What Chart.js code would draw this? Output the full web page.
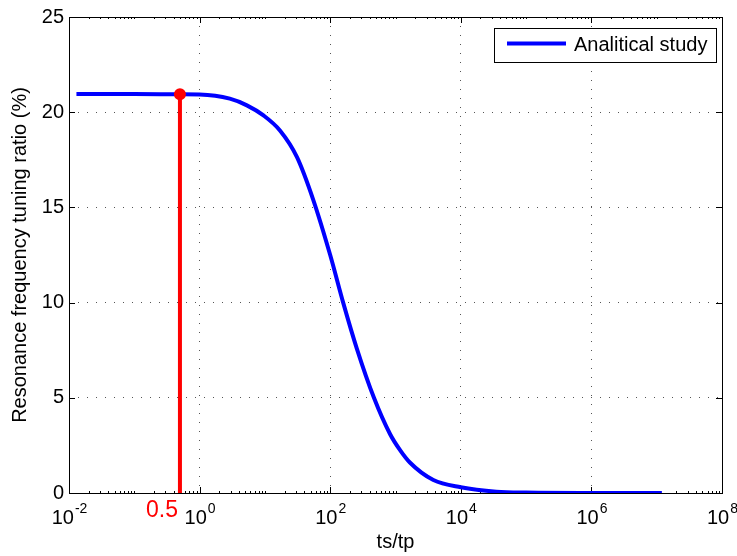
<!DOCTYPE html>
<html>
<head>
<meta charset="utf-8">
<script src="https://cdn.jsdelivr.net/npm/chart.js@4.4.1/dist/chart.umd.min.js"></script>
<style>
  html, body { margin: 0; padding: 0; background: #fff; }
  #wrap { width: 737px; height: 556px; }
</style>
</head>
<body>
<div id="wrap"><canvas id="chart" width="737" height="556"></canvas></div>
<script>
'use strict';

// ts/tp values and the tuning ratio (%)
const ratioValues = [0.013, 0.1, 0.5, 1, 2.9, 5.3, 9.5, 17, 31, 55, 100, 158, 255, 468, 824, 1175, 1660, 3800, 10000, 35000, 100000, 1000000, 12000000];
const tuningValues = [20.95, 20.95, 20.94, 20.93, 20.71, 20.36, 19.83, 19.04, 17.64, 15.4, 12.5, 10.0, 7.6, 5.0, 3.1, 2.25, 1.6, 0.68, 0.3, 0.07, 0.02, 0.0, 0.0];

// highlighted operating point
const markerRatio = [0.5];
const markerTuning = [20.94];
const markerLabel = '0.5';

const xTickPowers = [-2, 0, 2, 4, 6, 8];
const yTickValues = [0, 5, 10, 15, 20, 25];

const seriesLabel = 'Analitical study';
const xTitle = 'ts/tp';
const yTitle = 'Resonance frequency tuning ratio (%)';

const FONT = 'Liberation Sans, Arial, Helvetica, sans-serif';

// Axes box, inward ticks, exponent tick labels (MATLAB look).
const frameAndTicks = {
  id: 'frameAndTicks',
  beforeDatasetsDraw(chart) {
    const {ctx, chartArea: a, scales} = chart;
    const xs = scales.x, ys = scales.y;
    ctx.save();
    ctx.strokeStyle = '#000';
    ctx.lineWidth = 1;
    ctx.strokeRect(Math.round(a.left) + 0.5, Math.round(a.top) + 0.5,
        Math.round(a.right - a.left), Math.round(a.bottom - a.top));

    ctx.beginPath();
    // x ticks: decades + minor 2..9
    for (let p = xTickPowers[0]; p < xTickPowers[xTickPowers.length - 1]; p++) {
      for (let k = 1; k < 10; k++) {
        const v = k * Math.pow(10, p);
        const px = Math.round(xs.getPixelForValue(v)) + 0.5;
        const major = k === 1 && xTickPowers.includes(p);
        const len = major ? 6 : 2;
        ctx.moveTo(px, a.bottom); ctx.lineTo(px, a.bottom - len);
        ctx.moveTo(px, a.top); ctx.lineTo(px, a.top + len);
      }
    }
    // y ticks
    for (const v of yTickValues) {
      const py = Math.round(ys.getPixelForValue(v)) + 0.5;
      ctx.moveTo(a.left, py); ctx.lineTo(a.left + 6, py);
      ctx.moveTo(a.right, py); ctx.lineTo(a.right - 6, py);
    }
    ctx.stroke();

    // x tick labels as 10^p
    ctx.fillStyle = '#000';
    ctx.textBaseline = 'alphabetic';
    ctx.textAlign = 'left';
    for (const p of xTickPowers) {
      const px = xs.getPixelForValue(Math.pow(10, p));
      const exp = p < 0 ? '-' + Math.abs(p) : String(p);
      ctx.font = '20px ' + FONT;
      const wb = ctx.measureText('10').width;
      ctx.font = '14px ' + FONT;
      const we = ctx.measureText(exp).width;
      const x0 = px - (wb + we) / 2;
      ctx.font = '20px ' + FONT;
      ctx.fillText('10', x0, a.bottom + 31);
      ctx.font = '14px ' + FONT;
      ctx.fillText(exp, x0 + wb + 1, a.bottom + 20);
    }

    // red label under the marker line
    ctx.fillStyle = '#ff0000';
    ctx.font = '23px ' + FONT;
    ctx.textAlign = 'right';
    ctx.fillText(markerLabel, xs.getPixelForValue(markerRatio[0]) - 2, a.bottom + 24);
    ctx.restore();
  },
  afterDraw(chart) {
    // legend box in the top right corner
    const {ctx, chartArea: a} = chart;
    const w = 222, h = 34;
    const left = Math.round(a.right - 6 - w), top = Math.round(a.top + 11);
    ctx.save();
    ctx.fillStyle = '#fff';
    ctx.fillRect(left, top, w, h);
    ctx.strokeStyle = '#000';
    ctx.lineWidth = 1;
    ctx.strokeRect(left + 0.5, top + 0.5, w, h);
    ctx.strokeStyle = '#0000ff';
    ctx.lineWidth = 4;
    ctx.beginPath();
    ctx.moveTo(left + 13, top + 15.5);
    ctx.lineTo(left + 72, top + 15.5);
    ctx.stroke();
    ctx.fillStyle = '#000';
    ctx.font = '20px ' + FONT;
    ctx.textBaseline = 'alphabetic';
    ctx.fillText(chart.data.datasets[0].label, left + 80, top + 23);
    ctx.restore();
  }
};

const curvePoints = ratioValues.map((r, i) => ({x: r, y: tuningValues[i]}));
const markerPoints = markerRatio.map((r, i) => ({x: r, y: markerTuning[i]}));
const stemPoints = [{x: markerRatio[0], y: 0}, {x: markerRatio[0], y: markerTuning[0]}];

new Chart(document.getElementById('chart'), {
  type: 'line',
  data: {
    datasets: [{
      label: seriesLabel,
      data: curvePoints,
      borderColor: '#0000ff',
      borderWidth: 4,
      pointRadius: 0,
      cubicInterpolationMode: 'monotone',
      order: 3
    }, {
      label: 'stem',
      data: stemPoints,
      borderColor: '#ff0000',
      borderWidth: 4,
      pointRadius: 0,
      order: 2
    }, {
      label: 'marker',
      data: markerPoints,
      showLine: false,
      pointRadius: 5,
      pointBorderWidth: 2,
      pointBackgroundColor: '#ff0000',
      pointBorderColor: '#ff0000',
      order: 1
    }]
  },
  options: {
    responsive: false,
    animation: false,
    layout: {padding: {top: 16, right: 15, left: 0, bottom: 0}},
    plugins: {
      legend: {display: false},
      tooltip: {enabled: false}
    },
    scales: {
      x: {
        type: 'logarithmic',
        min: 0.01,
        max: 1e8,
        afterBuildTicks: (scale) => {
          scale.ticks = xTickPowers.map(p => ({value: Math.pow(10, p)}));
        },
        afterFit: (scale) => { scale.height = 63; },
        ticks: {display: false},
        grid: {color: '#555', lineWidth: 1, drawTicks: false},
        border: {display: false, dash: [1, 8]},
        title: {
          display: true,
          text: xTitle,
          color: '#000',
          font: {family: FONT, size: 20},
          padding: {top: 0, bottom: 2}
        }
      },
      y: {
        min: 0,
        max: 25,
        afterBuildTicks: (scale) => {
          scale.ticks = yTickValues.map(v => ({value: v}));
        },
        afterFit: (scale) => { scale.width = 69; },
        ticks: {color: '#000', font: {family: FONT, size: 20}, padding: 5},
        grid: {color: '#555', lineWidth: 1, drawTicks: false},
        border: {display: false, dash: [1, 8]},
        title: {
          display: true,
          text: yTitle,
          color: '#000',
          font: {family: FONT, size: 20},
          padding: {top: 8, bottom: 0}
        }
      }
    }
  },
  plugins: [frameAndTicks]
});
</script>
</body>
</html>
